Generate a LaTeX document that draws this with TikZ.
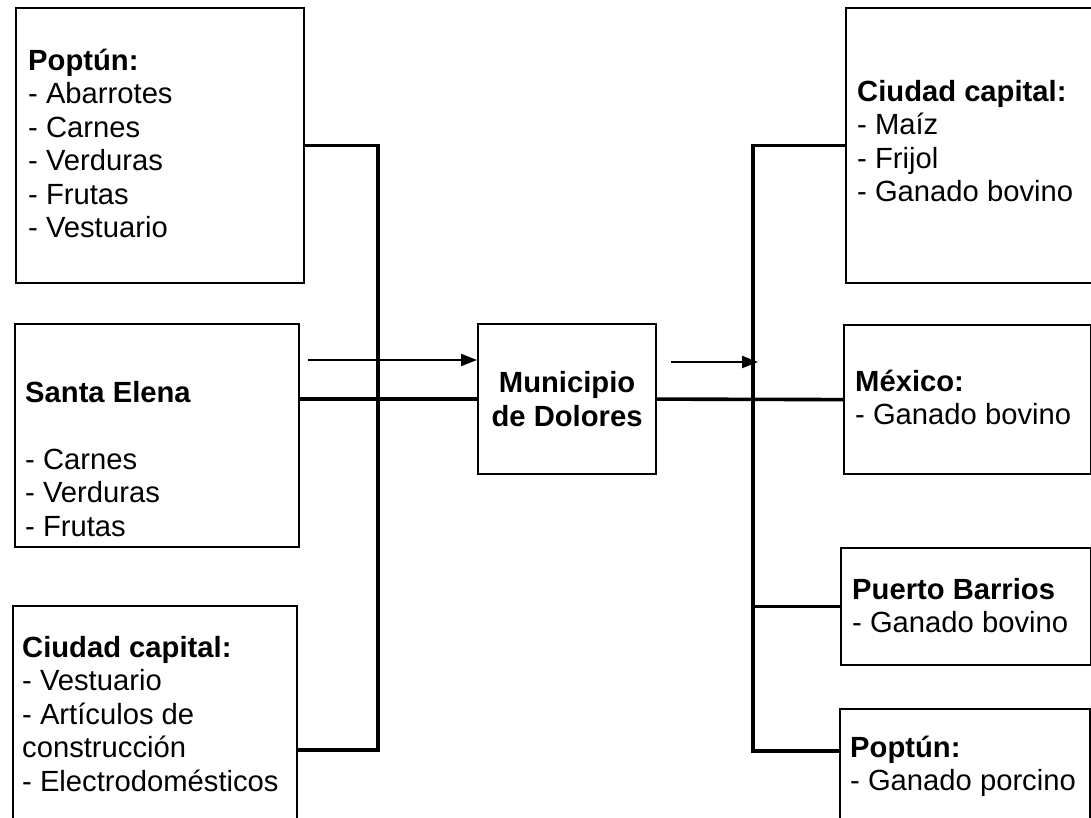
\documentclass[tikz,border=0pt]{standalone}
\usepackage{fontspec}
\setmainfont{Liberation Sans}
\usetikzlibrary{arrows.meta}
\newcommand\lines[1]{\begin{tabular}[t]{@{}l@{}}#1\end{tabular}}
\begin{document}
\begin{tikzpicture}[x=1pt,y=-1pt,
  box/.style={draw, line width=2.2pt, inner sep=0pt, anchor=north west},
  txt/.style={anchor=base west, inner sep=0pt, font=\fontsize{29.2}{33.5}\selectfont},
  conn/.style={line width=3.6pt},
  arr/.style={line width=2.2pt, -{Triangle[length=16pt,width=12pt]}}]
\useasboundingbox (0,0) rectangle (1091,817);
\fill[white] (0,0) rectangle (1091,817);
\clip (0,0) rectangle (1091,817);
% left boxes
\node[box, minimum width=288pt, minimum height=275pt] (b1) at (15,7) {};
\node[box, minimum width=284pt, minimum height=223pt] (b2) at (14,323) {};
\node[box, minimum width=284pt, minimum height=225pt] (b3) at (12,605) {};
% centre
\node[box, minimum width=178pt, minimum height=150pt, align=center,
      font=\fontsize{29.2}{33.5}\selectfont\bfseries] (m) at (477,323) {Municipio\\de Dolores};
% right boxes
\node[box, minimum width=255pt, minimum height=275pt] (r1) at (845,7) {};
\node[box, minimum width=247pt, minimum height=149pt] (r2) at (843,324) {};
\node[box, minimum width=250pt, minimum height=117pt] (r3) at (840,547) {};
\node[box, minimum width=250pt, minimum height=122pt] (r4) at (839,708) {};
% texts
\node[txt] (t1) at (28,70) {\lines{\textbf{Poptún:}\\- Abarrotes\\- Carnes\\- Verduras\\- Frutas\\- Vestuario}};
\node[txt] (t2) at (25,402) {\lines{\textbf{Santa Elena}\\ \\- Carnes\\- Verduras\\- Frutas}};
\node[txt] (t3) at (22,657) {\lines{\textbf{Ciudad capital:}\\- Vestuario\\- Artículos de\\construcción\\- Electrodomésticos}};
\node[txt] (t4) at (857,101) {\lines{\textbf{Ciudad capital:}\\- Maíz\\- Frijol\\- Ganado bovino}};
\node[txt] (t5) at (855,391) {\lines{\textbf{México:}\\- Ganado bovino}};
\node[txt] (t6) at (852,599) {\lines{\textbf{Puerto Barrios}\\- Ganado bovino}};
\node[txt] (t7) at (850,757) {\lines{\textbf{Poptún:}\\- Ganado porcino}};
% connector coordinates
\coordinate (lbb) at (378,750);
\coordinate (rbb) at (753,751);
\coordinate (a1s) at (308,360);
\coordinate (a2s) at (671,362);
\coordinate (a2e) at (758,362);
% connectors
\draw[conn] (b1.east) -| (lbb) -- (b3.east |- lbb);
\draw[conn] (b2.east |- m.west) -- (m.west);
\draw[conn] (m.east) -- (r2.west);
\draw[conn] (r1.west) -| (rbb) -- (r4.west |- rbb);
\draw[conn] (r3.west -| rbb) -- (r3.west);
\draw[arr] (a1s) -- (m.west |- a1s);
\draw[arr] (a2s) -- (a2e);
\end{tikzpicture}
\end{document}
